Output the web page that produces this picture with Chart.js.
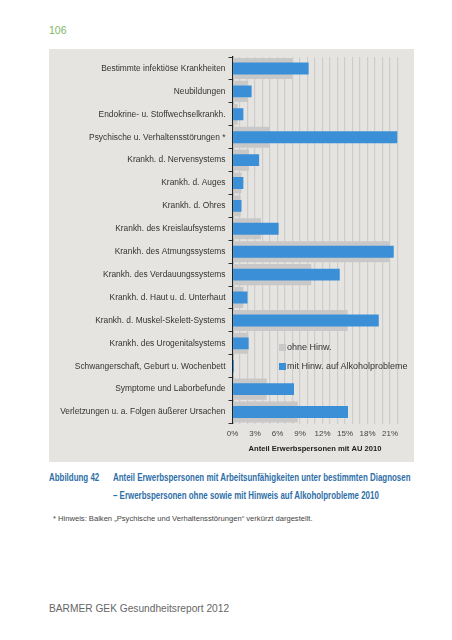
<!DOCTYPE html>
<html lang="de">
<head>
<meta charset="utf-8">
<script src="https://cdn.jsdelivr.net/npm/chart.js@4/dist/chart.umd.min.js"></script>
<style>
	body { margin: 0; background: #fff; font-family: "Liberation Sans", Arial, sans-serif; }
	#page { position: relative; width: 452px; height: 640px; overflow: hidden; }
	.pnum { position: absolute; left: 49px; top: 24px; font-size: 10.5px; color: #7db75f; }
	#panel { position: absolute; left: 49px; top: 49px; width: 365px; height: 413px; background: #e6e4e0; }
	#panel canvas { position: absolute; left: 0; top: 0; }
	#legend { position: absolute; left: 230px; top: 291px; font-size: 9px; color: #333; }
	#legend div { position: relative; height: 19px; line-height: 14px; padding-left: 8px; white-space: nowrap; }
	#legend span.box { position: absolute; left: 0; top: 4px; width: 7px; height: 7px; }
	.cap { position: absolute; top: 468px; font-weight: bold; font-size: 10.5px; line-height: 18px; color: #2f6fa7; white-space: nowrap; transform: scaleX(0.755); transform-origin: 0 0; }
	.note { position: absolute; left: 53px; top: 514px; font-size: 7.6px; color: #444; }
	.foot { position: absolute; left: 49px; top: 603px; font-size: 10.2px; color: #666; }
</style>
</head>
<body>
<div id="page">
	<div class="pnum">106</div>
	<div id="panel">
		<canvas id="myChart" width="365" height="413"></canvas>
		<div id="legend"></div>
	</div>
	<div class="cap" style="left:49px">Abbildung 42</div>
	<div class="cap" style="left:113px">Anteil Erwerbspersonen mit Arbeitsunfähigkeiten unter bestimmten Diagnosen<br>– Erwerbspersonen ohne sowie mit Hinweis auf Alkoholprobleme 2010</div>
	<div class="note">* Hinweis: Balken „Psychische und Verhaltensstörungen“ verkürzt dargestellt.</div>
	<div class="foot">BARMER GEK Gesundheitsreport 2012</div>
</div>
<script>
// Diagnosegruppen
var categories = [
	'Bestimmte infektiöse Krankheiten',
	'Neubildungen',
	'Endokrine- u. Stoffwechselkrankh.',
	'Psychische u. Verhaltensstörungen *',
	'Krankh. d. Nervensystems',
	'Krankh. d. Auges',
	'Krankh. d. Ohres',
	'Krankh. des Kreislaufsystems',
	'Krankh. des Atmungssystems',
	'Krankh. des Verdauungssystems',
	'Krankh. d. Haut u. d. Unterhaut',
	'Krankh. d. Muskel-Skelett-Systems',
	'Krankh. des Urogenitalsystems',
	'Schwangerschaft, Geburt u. Wochenbett',
	'Symptome und Laborbefunde',
	'Verletzungen u. a. Folgen äußerer Ursachen'
];

// Anteil in %
var ohneHinw = [8.0, 2.0, 0.7, 5.0, 2.2, 1.2, 1.1, 3.8, 21.0, 10.5, 1.45, 15.35, 2.1, 0.15, 4.55, 8.7];
var mitHinw = [10.15, 2.55, 1.45, 22, 3.55, 1.45, 1.2, 6.15, 21.5, 14.3, 2.0, 19.5, 2.15, 0.2, 8.2, 15.4];

var seriesLabels = ['ohne Hinw.', 'mit Hinw. auf Alkoholprobleme'];
var xTicks = [0, 3, 6, 9, 12, 15, 18, 21];
var xMax = 22;
var xTitle = 'Anteil Erwerbspersonen mit AU 2010';

Chart.defaults.font.family = '"Liberation Sans", Arial, sans-serif';

var ctx = document.getElementById('myChart').getContext('2d');
var myChart = new Chart(ctx, {
	type: 'bar',
	data: {
		labels: categories,
		datasets: [
			{
				label: seriesLabels[0],
				data: ohneHinw,
				backgroundColor: '#c8c8c8',
				barPercentage: 0.92,
				categoryPercentage: 1,
				grouped: false,
				order: 2
			},
			{
				label: seriesLabels[1],
				data: mitHinw,
				backgroundColor: '#3a8fd6',
				barPercentage: 0.52,
				categoryPercentage: 1,
				grouped: false,
				order: 1
			}
		]
	},
	options: {
		indexAxis: 'y',
		responsive: false,
		devicePixelRatio: 1,
		animation: false,
		layout: { padding: { top: 6.5, right: 16.5, bottom: 0, left: 0 } },
		plugins: {
			legend: { display: false },
			tooltip: { enabled: false }
		},
		scales: {
			x: {
				min: 0,
				max: xMax,
				afterFit: function(scale) { scale.height = 38.5; },
				border: { display: false },
				grid: {
					drawTicks: false,
					color: function(c) { return c.tick && c.tick.value === 0 ? 'rgba(0,0,0,0)' : '#cdcdcd'; },
					lineWidth: 1.2
				},
				ticks: {
					stepSize: 1,
					autoSkip: false,
					maxRotation: 0,
					padding: 5,
					color: '#444',
					font: { size: 8 },
					callback: function(v) { return xTicks.indexOf(v) >= 0 ? v + '%' : ''; }
				},
				title: {
					display: true,
					text: xTitle,
					color: '#222',
					font: { size: 7.6, weight: 'bold' },
					padding: { top: 0, bottom: 9 }
				}
			},
			y: {
				afterFit: function(scale) { scale.width = 183.5; },
				border: { display: true, color: '#222', width: 1.3 },
				grid: {
					offset: true,
					drawOnChartArea: false,
					drawTicks: true,
					tickLength: 4,
					color: '#333'
				},
				ticks: {
					padding: 3,
					color: '#333',
					font: { size: 8.4 }
				}
			}
		}
	}
});

// Legende im Diagramm
var legend = document.getElementById('legend');
myChart.data.datasets.forEach(function(ds) {
	var row = document.createElement('div');
	var box = document.createElement('span');
	box.className = 'box';
	box.style.background = ds.backgroundColor;
	row.appendChild(box);
	row.appendChild(document.createTextNode(ds.label));
	legend.appendChild(row);
});
</script>
</body>
</html>
